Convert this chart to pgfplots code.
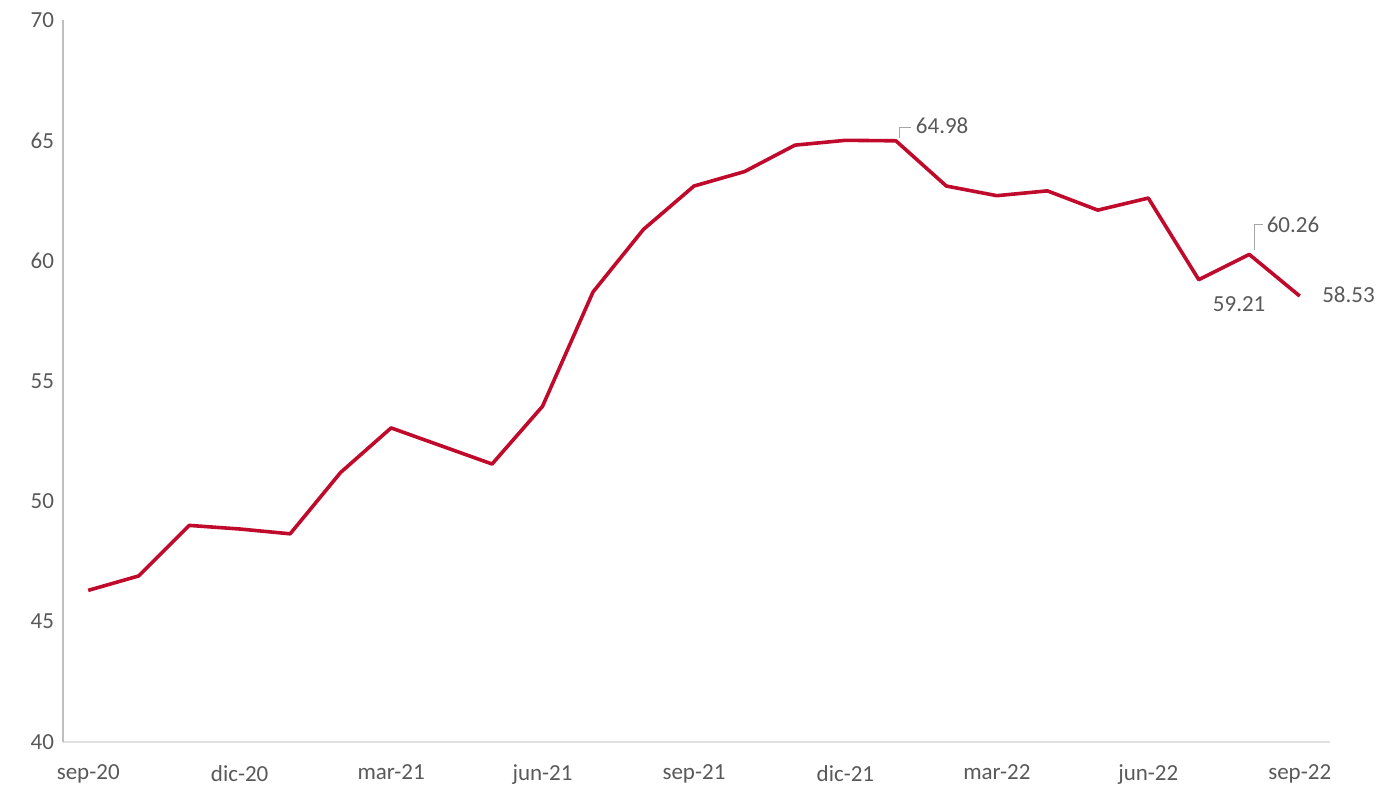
\documentclass[border=0pt]{standalone}
\usepackage{pgfplots}
\pgfplotsset{compat=1.18}
\usepackage{fontspec}
\setmainfont{Carlito}
\definecolor{linered}{HTML}{C00A2C}
\definecolor{txtgray}{HTML}{595959}
\definecolor{axgray}{HTML}{BFBFBF}

\begin{document}
\begin{tikzpicture}
\begin{axis}[
    name=main,
    scale only axis,
    width=633.5pt,
    height=361pt,
    xmin=-0.5, xmax=24.6,
    ymin=40, ymax=70,
    ytick={40,45,...,70},
    xtick={0,3,...,24},
    xticklabels={sep-20,dic-20,mar-21,jun-21,sep-21,dic-21,mar-22,jun-22,sep-22},
    axis x line*=bottom,
    axis y line*=left,
    axis line style={axgray, line width=0.6pt},
    x axis line style={black!12},
    major tick length=0pt,
    tick label style={font=\fontsize{11.5}{13}\selectfont, text=txtgray},
    /pgf/number format/assume math mode=true,
    yticklabel style={xshift=-1pt},
    xticklabel style={yshift=-8pt},
    clip=false,
]
\addplot[linered, line width=1.8pt, line join=round] coordinates {
(0,46.3) (1,46.9) (2,49.0) (3,48.85) (4,48.65) (5,51.2) (6,53.05)
(7,52.3) (8,51.55) (9,53.95) (10,58.7) (11,61.3) (12,63.1) (13,63.7)
(14,64.8) (15,65.0) (16,64.98) (17,63.1) (18,62.7) (19,62.9) (20,62.1)
(21,62.6) (22,59.21) (23,60.26) (24,58.53)
};
\draw[black!35, line width=0.4pt] (axis cs:16.07,65.1) -- (axis cs:16.07,65.55) -- (axis cs:16.3,65.55);
\node[anchor=west, text=txtgray, font=\fontsize{11.5}{13}\selectfont, inner sep=1pt] at (axis cs:16.35,65.6) {64.98};
\draw[black!35, line width=0.4pt] (axis cs:23.1,60.45) -- (axis cs:23.1,61.5) -- (axis cs:23.28,61.5);
\node[anchor=west, text=txtgray, font=\fontsize{11.5}{13}\selectfont, inner sep=1pt] at (axis cs:23.3,61.5) {60.26};
\node[text=txtgray, font=\fontsize{11.5}{13}\selectfont, inner sep=1pt] at (axis cs:22.8,58.2) {59.21};
\node[anchor=west, text=txtgray, font=\fontsize{11.5}{13}\selectfont, inner sep=1pt] at (axis cs:24.4,58.6) {58.53};
\end{axis}
\pgfresetboundingbox
\path (main.south west) ++(-31.5pt,-22pt) coordinate (bl);
\path (main.north east) ++(24.5pt,10pt) coordinate (tr);
\path[use as bounding box] (bl) rectangle (tr);
\end{tikzpicture}
\end{document}
